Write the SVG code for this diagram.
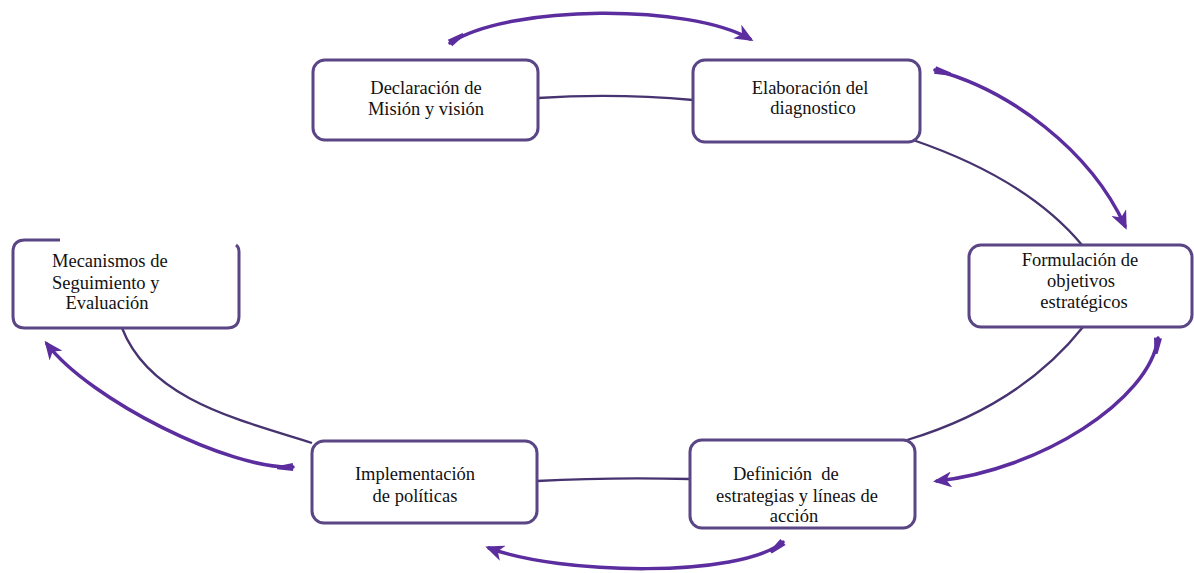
<svg xmlns="http://www.w3.org/2000/svg" width="1194" height="573" viewBox="0 0 1194 573">
<defs>
<style>
.box{fill:#fff;stroke:#5a4585;stroke-width:3}
.lbl{font-family:"Liberation Serif","Times New Roman",serif;font-size:18.5px;fill:#111;text-anchor:middle;white-space:pre}
.conn{fill:none;stroke:#46336f;stroke-width:2.3}
.arr{fill:none;stroke:#5b2d9e;stroke-width:3.5;stroke-linecap:round}
</style>
<marker id="head" viewBox="0 0 14 12" refX="11" refY="6" markerWidth="19" markerHeight="16" markerUnits="userSpaceOnUse" orient="auto">
<path d="M0,0 L14,6 L0,12 L4,6 z" fill="#5b2d9e"/>
</marker>
<marker id="tail" viewBox="-1 -5 18 10" refX="0" refY="0" markerWidth="18" markerHeight="10" markerUnits="userSpaceOnUse" orient="auto">
<path d="M0,-4 L16,-1.6 L16,1.6 L0,4 z" fill="#5b2d9e"/>
</marker>
</defs>
<rect width="1194" height="573" fill="#fff"/>
<g id="connectors">
<path class="conn" d="M538,98 Q615,93 693,100"/>
<path class="conn" d="M913,140 Q1027,179 1082,245"/>
<path class="conn" d="M1083,327 Q1020,406 907,440"/>
<path class="conn" d="M537,481 Q610,477 690,479"/>
<path class="conn" d="M122,328 C150,400 240,420 312,443"/>
<path class="arr" marker-start="url(#tail)" marker-end="url(#head)" d="M450,43 C510,4 690,4 750,39"/>
<path class="arr" marker-start="url(#tail)" marker-end="url(#head)" d="M935,70 C1010,90 1090,150 1125,226"/>
<path class="arr" marker-start="url(#tail)" marker-end="url(#head)" d="M1158,338 C1150,400 1040,470 937,481"/>
<path class="arr" marker-start="url(#tail)" marker-end="url(#head)" d="M783,542 C740,578 560,575 489,548"/>
<path class="arr" marker-start="url(#tail)" marker-end="url(#head)" d="M293,467 C230,470 90,400 47,344"/>
</g>
<g id="n1">
<rect class="box" x="313" y="60" width="225" height="80" rx="12"/>
<text class="lbl" x="426" y="94">Declaración de</text>
<text class="lbl" x="426" y="115">Misión y visión</text>
</g>
<g id="n2">
<rect class="box" x="693" y="60" width="227" height="82" rx="12"/>
<text class="lbl" x="810" y="94">Elaboración del</text>
<text class="lbl" x="813" y="114">diagnostico</text>
</g>
<g id="n3">
<rect class="box" x="969" y="245" width="223" height="82" rx="12"/>
<text class="lbl" x="1080" y="266">Formulación de</text>
<text class="lbl" x="1081" y="287">objetivos</text>
<text class="lbl" x="1084" y="308">estratégicos</text>
</g>
<g id="n4">
<path class="box" d="M60,240 L25,240 Q13,240 13,252 L13,316 Q13,328 25,328 L227,328 Q239,328 239,316 L239,252 Q239,247 236,245"/>
<text class="lbl" x="52" y="267" style="text-anchor:start">Mecanismos de</text>
<text class="lbl" x="52" y="289" style="text-anchor:start">Seguimiento y</text>
<text class="lbl" x="107" y="309">Evaluación</text>
</g>
<g id="n5">
<rect class="box" x="312" y="441" width="225" height="82" rx="12"/>
<text class="lbl" x="415" y="480">Implementación</text>
<text class="lbl" x="415" y="502">de políticas</text>
</g>
<g id="n6">
<rect class="box" x="690" y="440" width="225" height="88" rx="12"/>
<text class="lbl" x="733" y="480" style="text-anchor:start">Definición  de</text>
<text class="lbl" x="797" y="502">estrategias y líneas de</text>
<text class="lbl" x="794" y="522">acción</text>
</g>
</svg>
